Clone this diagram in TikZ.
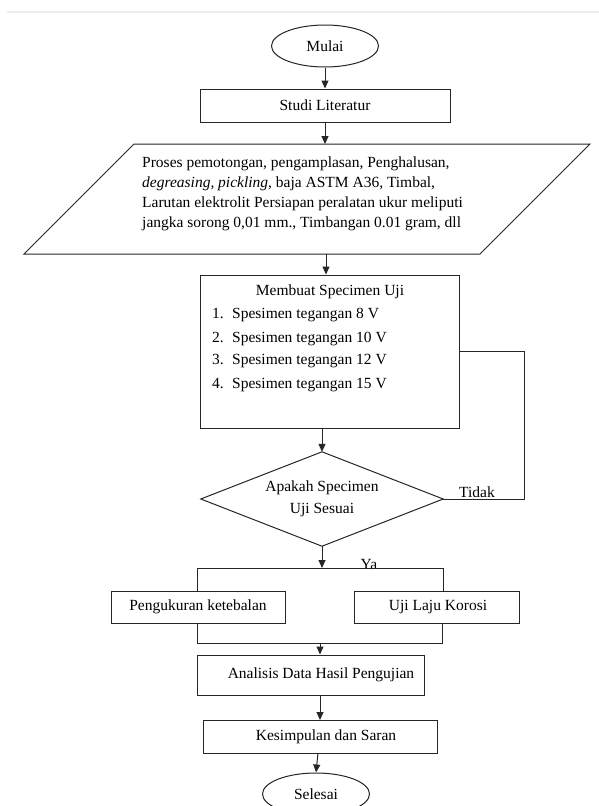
\documentclass[tikz,border=0pt]{standalone}
\usepackage{fontspec}
\setmainfont{Liberation Serif}
\usetikzlibrary{shapes.geometric,arrows.meta}
\begin{document}
\begin{tikzpicture}[x=1pt,y=-1pt,
  every node/.style={font=\fontsize{15.5}{18.5}\selectfont, inner sep=0pt},
  line/.style={draw=black!85, line width=1pt},
  arr/.style={line, -{Triangle[length=8pt,width=7pt]}},
  box/.style={line, rectangle},
  term/.style={line, ellipse, minimum width=107pt, minimum height=42pt},
  txt/.style={anchor=base west},
]
\useasboundingbox (0,0) rectangle (599,806);
\fill[white] (0,0) rectangle (599,806);
\draw[black!7, line width=2pt] (7,12) -- (599,12);

% start
\node[term] (mulai) at (325,46) {Mulai};
\node[box, minimum width=250pt, minimum height=33pt] (studi) at (325,105.5) {Studi Literatur};

% parallelogram
\coordinate (pTL) at (134,144);
\coordinate (pTR) at (590,144);
\coordinate (pBR) at (480,254);
\coordinate (pBL) at (24,254);
\draw[line] (pTL) -- (pTR) -- (pBR) -- (pBL) -- cycle;
\coordinate (ptop) at (325,144);
\coordinate (pbot) at (326,254);
\node[txt] (p1) at (142,167) {Proses pemotongan, pengamplasan, Penghalusan,};
\node[txt] (p2) at (142,187) {\textit{degreasing, pickling,} baja ASTM A36, Timbal,};
\node[txt] (p3) at (142,207) {Larutan elektrolit Persiapan peralatan ukur meliputi};
\node[txt] (p4) at (142,227) {jangka sorong 0,01 mm., Timbangan 0.01 gram, dll};

% specimen box
\node[box, minimum width=259pt, minimum height=153pt] (spec) at (329.5,351.5) {};
\node[anchor=base] (st) at (330,295) {Membuat Specimen Uji};
\node[txt] (n1) at (212,318) {1.};
\node[txt] (n2) at (212,342) {2.};
\node[txt] (n3) at (212,364) {3.};
\node[txt] (n4) at (212,388) {4.};
\node[txt] (s1) at (232,318) {Spesimen tegangan 8 V};
\node[txt] (s2) at (232,342) {Spesimen tegangan 10 V};
\node[txt] (s3) at (232,364) {Spesimen tegangan 12 V};
\node[txt] (s4) at (232,388) {Spesimen tegangan 15 V};

% decision
\node[rectangle, minimum width=242pt, minimum height=94pt, align=center,
      font=\fontsize{15.5}{22}\selectfont] (dec) at (322,499) {Apakah Specimen\\Uji Sesuai};
\draw[line] (dec.north) -- (dec.east) -- (dec.south) -- (dec.west) -- cycle;
\node[anchor=base] (tidak) at (477,497) {Tidak};
\node[anchor=base] (ya) at (369,569) {Ya};

% parallel tasks
\node[box, minimum width=174pt, minimum height=32pt] (peng) at (198,607) {Pengukuran ketebalan};
\node[box, minimum width=165pt, minimum height=32pt] (uji) at (436.5,607) {};
\node (ujit) at (438,607) {Uji Laju Korosi};
\coordinate (split) at (322,568);
\coordinate (splitL) at (197,568);
\coordinate (splitR) at (443,568);
\coordinate (joinL) at (197,643);
\coordinate (joinR) at (442,643);
\coordinate (join) at (320,643);

% analysis / conclusion / end
\node[box, minimum width=227pt, minimum height=40pt] (ana) at (310.5,675) {};
\node (anat) at (321,675) {Analisis Data Hasil Pengujian};
\node[box, minimum width=234pt, minimum height=33pt] (kes) at (320,736.5) {};
\node (kest) at (326,736.5) {Kesimpulan dan Saran};
\node[term] (selesai) at (316,794) {Selesai};

% connectors
\draw[arr] (mulai) -- (studi);
\draw[arr] (studi) -- (ptop);
\draw[arr] (pbot) -- (pbot |- spec.north);
\draw[arr] (dec.north |- spec.south) -- (dec.north);
\draw[line] (spec.east) -- ++(65,0) |- (dec.east);
\draw[arr] (dec.south) -- (split);
\draw[line] (splitL |- peng.north) -- (splitL) -- (splitR) -- (splitR |- uji.north);
\draw[line] (joinL |- peng.south) -- (joinL) -- (joinR) -- (joinR |- uji.south);
\draw[arr] (join) -- (join |- ana.north);
\draw[arr] (320,695) -- (320,720);
\draw[arr] (318,753) -- (selesai.north);
\end{tikzpicture}
\end{document}
